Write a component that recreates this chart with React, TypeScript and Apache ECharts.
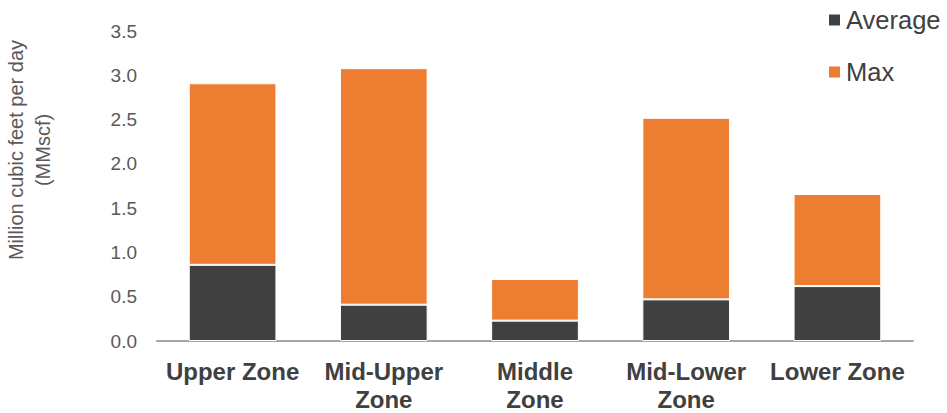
import React, { useEffect, useRef } from "react";
import * as echarts from "echarts";

// Gas rates by zone, million cubic feet per day
const zones = ["Upper Zone", "Mid-Upper Zone", "Middle Zone", "Mid-Lower Zone", "Lower Zone"];
const averageValues = [0.86, 0.41, 0.23, 0.47, 0.62];
// stacked on top of the average segment
const maxValues = [2.05, 2.67, 0.47, 2.05, 1.04];
const seriesNames = ["Average", "Max"];
const yTitle = "Million cubic feet per day\n(MMscf)";

const FONT = "Liberation Sans, Arial, sans-serif";

export default function App() {
  const ref = useRef<HTMLDivElement>(null);

  useEffect(() => {
    if (!ref.current) return;
    const chart = echarts.init(ref.current, null, { renderer: "svg" });
    chart.setOption({
      animation: false,
      grid: { left: 157, right: 34, top: 31, bottom: 72, outerBoundsMode: "none" },
      legend: {
        orient: "vertical",
        left: 827,
        top: 5,
        padding: 0,
        itemWidth: 13,
        itemHeight: 13,
        itemGap: 22,
        icon: "rect",
        data: seriesNames,
        textStyle: { fontFamily: FONT, fontSize: 25.5, lineHeight: 30, color: "#404040" },
      },
      xAxis: {
        type: "category",
        data: zones,
        axisLine: { lineStyle: { color: "#A6A6A6", width: 2 } },
        axisTick: { show: false },
        axisLabel: {
          interval: 0,
          margin: 16,
          fontFamily: FONT,
          fontSize: 24,
          fontWeight: "bold",
          lineHeight: 28,
          color: "#404040",
          formatter: (v: string) => (v.length > 10 ? v.replace(/ (\S+)$/, "\n$1") : v),
        },
      },
      yAxis: {
        type: "value",
        min: 0,
        max: 3.5,
        interval: 0.5,
        splitLine: { show: false },
        axisLine: { show: false },
        axisTick: { show: false },
        axisLabel: {
          margin: 20,
          fontFamily: FONT,
          fontSize: 19,
          color: "#595959",
          formatter: (v: number) => v.toFixed(1),
        },
      },
      graphic: [
        {
          type: "text",
          x: 29,
          y: 150,
          rotation: Math.PI / 2,
          style: {
            text: yTitle,
            fontFamily: FONT,
            fontSize: 20,
            fill: "#595959",
            textAlign: "center",
            textVerticalAlign: "middle",
            lineHeight: 27,
          },
        },
      ],
      series: [
        {
          name: seriesNames[0],
          type: "bar",
          stack: "rate",
          data: averageValues,
          barCategoryGap: "42%",
          itemStyle: { color: "#404040", borderColor: "#ffffff", borderWidth: 1 },
        },
        {
          name: seriesNames[1],
          type: "bar",
          stack: "rate",
          data: maxValues,
          barCategoryGap: "42%",
          itemStyle: { color: "#ED7D31", borderColor: "#ffffff", borderWidth: 1 },
        },
      ],
    });
    return () => chart.dispose();
  }, []);

  return <div ref={ref} style={{ width: 947, height: 413, position: "absolute", left: 0, top: 0 }} />;
}
